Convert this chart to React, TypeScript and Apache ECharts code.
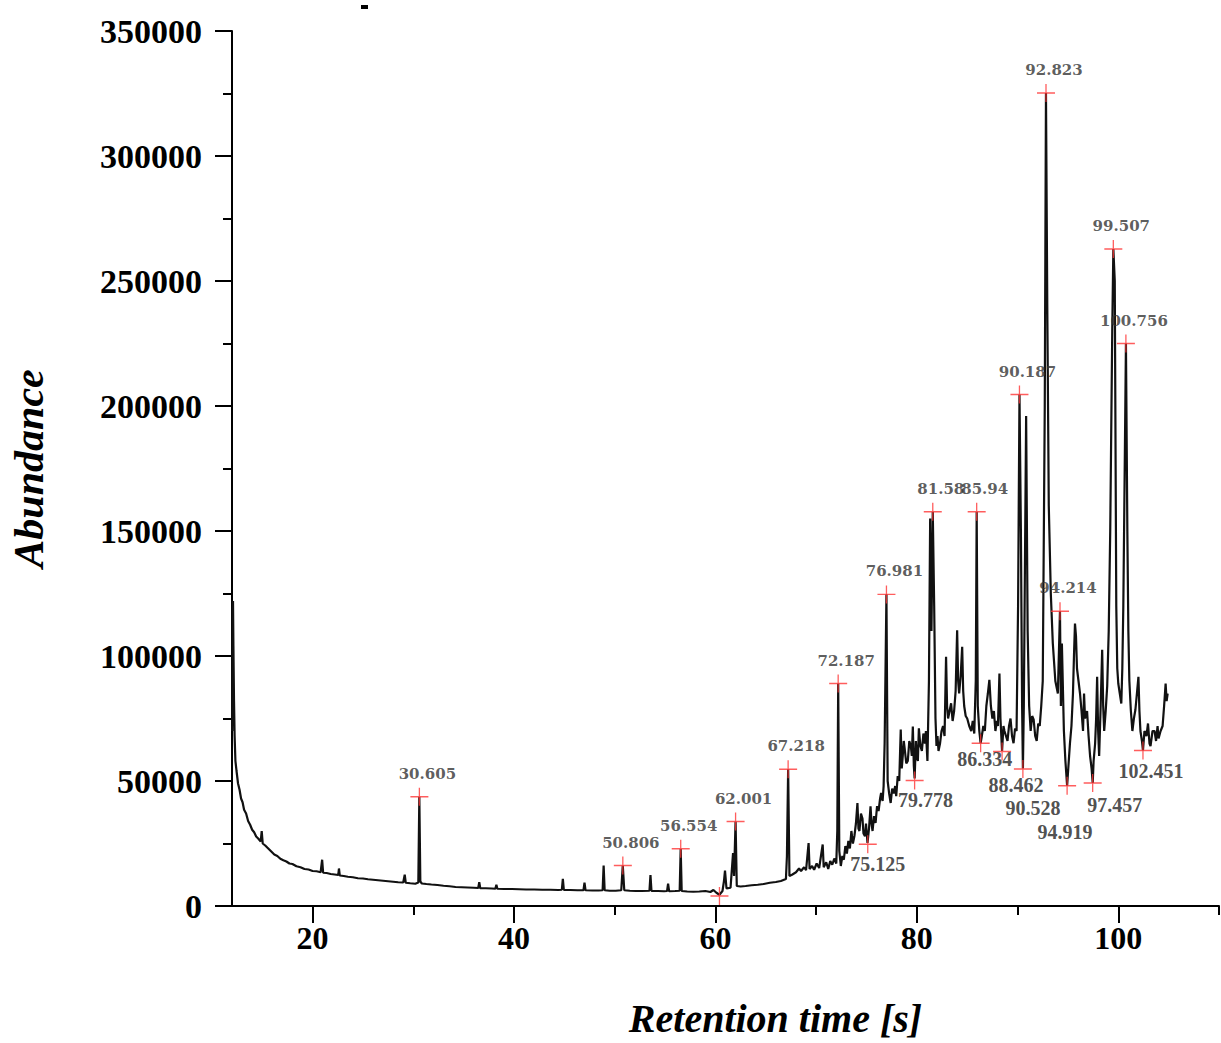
import React, { useEffect, useRef } from 'react';
import * as echarts from 'echarts';

// Chromatogram trace, [retention time (s), abundance]
const traceEarly = [
  [12.02, 70000], [12.06, 118000], [12.1, 122000], [12.14, 104000], [12.2, 82000], [12.26, 68000], [12.34, 58000],
  [12.45, 54000], [12.6, 49000], [12.75, 46500], [12.9, 43000], [13.05, 41500], [13.2, 38500], [13.4, 37000],
  [13.6, 34000], [13.8, 32500], [14.0, 30500], [14.2, 29500], [14.4, 27800], [14.6, 27000], [14.85, 25800],
  [14.95, 30000], [15.05, 25000], [15.3, 24200], [15.6, 23000], [15.9, 21800], [16.2, 20600], [16.5, 20000],
  [16.8, 18900], [17.1, 18300], [17.4, 17800], [17.7, 17000], [18.0, 16800], [18.4, 15900], [18.8, 15500],
  [19.2, 14800], [19.6, 14600], [20.0, 14000], [20.4, 13900], [20.8, 13500], [20.95, 18500], [21.05, 13300],
  [21.4, 13200], [21.8, 12800], [22.2, 12600], [22.55, 12400], [22.62, 15000], [22.7, 12200], [23.1, 12000],
  [23.5, 11700], [24.0, 11500], [24.5, 11100], [25.0, 11000], [25.5, 10700], [26.0, 10500], [26.5, 10300],
  [27.0, 10100], [27.5, 9900], [28.0, 9700], [28.5, 9500], [29.0, 9400], [29.15, 12500], [29.25, 9300],
  [29.7, 9100], [30.2, 8900], [30.5, 9400], [30.6, 43700], [30.7, 9800], [30.85, 9000], [31.3, 8800],
  [31.8, 8600], [32.4, 8400], [33.0, 8100], [33.6, 7900], [34.2, 7600], [34.8, 7500], [35.4, 7400],
  [36.0, 7300], [36.45, 7200], [36.55, 9500], [36.65, 7100], [37.2, 7100], [37.8, 7000], [38.15, 6900],
  [38.25, 8500], [38.35, 6900], [39.0, 6800], [39.8, 6800], [40.5, 6700], [41.2, 6600], [42.0, 6600],
  [42.8, 6500], [43.6, 6500], [44.4, 6400], [44.75, 6500], [44.85, 10900], [44.95, 6400], [45.6, 6400],
  [46.3, 6300], [46.9, 6300], [47.0, 9300], [47.1, 6300], [47.8, 6200], [48.4, 6200], [48.8, 6300],
  [48.9, 16200], [49.0, 6300], [49.5, 6100], [50.1, 6100], [50.65, 6300], [50.8, 16200], [50.95, 6300],
  [51.5, 6100], [52.1, 6000], [52.7, 6000], [53.45, 6100], [53.55, 12400], [53.65, 6000], [54.3, 6000],
  [54.9, 5900], [55.2, 6000], [55.3, 8900], [55.4, 5900], [56.0, 6000], [56.45, 6100], [56.55, 22900],
  [56.65, 6000], [57.2, 5800], [57.8, 5700], [58.4, 5800], [59.0, 6000], [59.5, 5600], [59.8, 6400],
  [60.1, 5300], [60.4, 4500], [60.7, 6000], [60.85, 10000], [60.95, 14200], [61.1, 7000], [61.5, 7300],
  [61.75, 21200], [61.85, 12000], [62.0, 33800], [62.12, 8000], [62.5, 7800], [63.0, 8000], [63.6, 8300],
  [64.2, 8500], [64.8, 8800], [65.4, 9300], [66.0, 9600], [66.5, 10000], [67.0, 10800], [67.1, 20000],
  [67.22, 54700], [67.35, 12000], [67.6, 12500],
];

const traceMid = [
  [68.0, 13500], [68.3, 15000], [68.5, 14000], [68.8, 15500], [69.0, 14300], [69.25, 25200], [69.35, 14800],
  [69.6, 16000], [69.8, 14500], [70.05, 17000], [70.3, 15200], [70.65, 24600], [70.75, 15500], [71.0, 17500],
  [71.2, 14800], [71.4, 18000], [71.6, 16500], [71.8, 19000], [72.0, 17000], [72.1, 30000], [72.19, 89000],
  [72.3, 22000], [72.45, 16000], [72.6, 20000], [72.75, 18500], [72.9, 24000], [73.05, 21000], [73.2, 26000],
  [73.35, 23000], [73.5, 30000], [73.65, 25000], [73.8, 28000], [73.95, 33000], [74.1, 41200], [74.2, 31000],
  [74.3, 30000], [74.45, 37000], [74.6, 35000], [74.7, 29000], [74.85, 27900], [74.95, 33000], [75.1, 25200],
  [75.25, 31000], [75.4, 39900], [75.5, 33000], [75.6, 30000], [75.75, 36000], [75.9, 33200], [76.05, 40000],
  [76.2, 38000], [76.35, 43000], [76.45, 45200], [76.6, 42000], [76.7, 48000], [76.8, 65100], [76.98, 124650],
  [77.1, 50000], [77.25, 45000], [77.4, 41200], [77.55, 47000], [77.7, 45000], [77.85, 48000], [77.95, 43900],
  [78.1, 52000], [78.25, 50000], [78.4, 70600], [78.5, 55000], [78.6, 60000], [78.7, 66000], [78.8, 62600],
  [78.95, 57000], [79.1, 58000], [79.25, 66000], [79.4, 64000], [79.5, 60000], [79.6, 71800], [79.7, 56000],
  [79.78, 51000], [79.9, 66000], [80.0, 60000], [80.1, 58000], [80.2, 71100], [80.35, 64000], [80.5, 62000],
  [80.65, 69000], [80.8, 65000], [80.9, 70000], [81.05, 58000], [81.2, 90000], [81.32, 155000], [81.45, 110000],
  [81.58, 157700], [81.72, 120000], [81.85, 75000], [81.95, 64000], [82.05, 68000], [82.15, 62000], [82.3, 65000],
  [82.45, 70000], [82.6, 72000], [82.75, 68000], [82.9, 99700], [83.0, 80000], [83.1, 75000], [83.25, 78000],
  [83.4, 81100], [83.55, 74000], [83.7, 78000], [83.85, 86000], [84.0, 110300], [84.1, 90000], [84.2, 85000],
  [84.35, 92000], [84.5, 103700], [84.6, 86000], [84.7, 80000], [84.85, 76000], [85.0, 75000], [85.2, 72000],
  [85.4, 70000], [85.55, 74000], [85.7, 69000], [85.85, 90000], [85.94, 157700], [86.05, 80000], [86.2, 70000],
  [86.33, 65100], [86.45, 68000], [86.6, 72000], [86.75, 70000], [86.9, 80000], [87.05, 85000], [87.2, 90500],
  [87.35, 80000], [87.5, 75000], [87.65, 78000], [87.8, 70000], [87.95, 74000], [88.05, 72000], [88.2, 93000],
  [88.3, 75000], [88.46, 62000], [88.6, 72000], [88.7, 70000], [88.85, 68000], [89.0, 66000], [89.15, 72000],
  [89.3, 75000], [89.45, 68000], [89.6, 65100], [89.75, 71000], [89.9, 70000],
];

const traceLate = [
  [90.05, 120000], [90.19, 204600], [90.33, 150000], [90.45, 80000], [90.53, 55000], [90.62, 80000],
  [90.7, 120000], [90.85, 196000], [91.0, 110000], [91.15, 80000], [91.3, 70000], [91.45, 76000], [91.6, 74500],
  [91.75, 68000], [91.9, 66000], [92.05, 73000], [92.2, 72000], [92.35, 80000], [92.5, 90000], [92.7, 200000],
  [92.82, 325200], [92.95, 240000], [93.1, 160000], [93.3, 125000], [93.5, 105000], [93.75, 90000], [94.0, 85000],
  [94.21, 117900], [94.3, 80000], [94.4, 105000], [94.6, 70000], [94.75, 58000], [94.92, 48100], [95.05, 56000],
  [95.2, 65000], [95.35, 72000], [95.5, 85000], [95.6, 100000], [95.7, 113000], [95.8, 108000], [95.9, 95000],
  [96.05, 90000], [96.2, 85000], [96.35, 78000], [96.5, 70000], [96.6, 85000], [96.7, 75000], [96.9, 78000],
  [97.05, 68000], [97.2, 60000], [97.35, 55000], [97.46, 49200], [97.55, 58000], [97.7, 65000], [97.8, 75000],
  [97.9, 91700], [98.0, 70000], [98.1, 60000], [98.25, 80000], [98.4, 102500], [98.5, 80000], [98.6, 70000],
  [98.75, 78000], [98.9, 88000], [99.05, 110000], [99.2, 150000], [99.4, 230000], [99.51, 262800], [99.65, 250000],
  [99.8, 120000], [99.9, 95000], [100.0, 89000], [100.15, 85000], [100.3, 81000], [100.4, 95000], [100.5, 120000],
  [100.65, 180000], [100.76, 225000], [100.9, 150000], [101.0, 110000], [101.1, 90000], [101.25, 78000],
  [101.4, 70000], [101.55, 75000], [101.7, 78500], [101.85, 85000], [102.0, 91700], [102.1, 78000], [102.2, 70000],
  [102.35, 66000], [102.45, 62200], [102.6, 70000], [102.8, 68000], [102.95, 73000], [103.1, 65000], [103.2, 64000],
  [103.4, 70000], [103.6, 70000], [103.75, 66000], [103.9, 72000], [104.0, 67000], [104.2, 70000], [104.4, 72000],
  [104.55, 80000], [104.7, 89000], [104.8, 82000], [104.9, 85000],
];

const peakTimes = [30.605, 50.806, 56.554, 62.001, 67.218, 72.187, 76.981, 81.58, 85.94, 90.187, 92.823, 94.214, 99.507, 100.756];
const peakHeights = [43700, 16200, 22900, 33800, 54700, 89000, 124650, 157700, 157700, 204600, 325200, 117900, 262800, 225000];
const peakLabels = ['30.605', '50.806', '56.554', '62.001', '67.218', '72.187', '76.981', '81.58', '85.94', '90.187', '92.823', '94.214', '99.507', '100.756'];

const valleyTimes = [60.4, 75.125, 79.778, 86.334, 88.462, 90.528, 94.919, 97.457, 102.451];
const valleyHeights = [4000, 24700, 50200, 65100, 61800, 54800, 48100, 49200, 62200];
const valleyLabels = ['', '75.125', '79.778', '86.334', '88.462', '90.528', '94.919', '97.457', '102.451'];
const valleyLabelOffsets = [[0, 0], [10, 20], [11, 19], [4, 16], [14, 33], [10, 39], [-2, 46], [22, 22], [8, 20]];

const xMajorTicks = [20, 40, 60, 80, 100];
const xMinorTicks = [30, 50, 70, 90, 110];

const serif = 'Liberation Serif';
const plusSymbol = 'path://M0,9L18,9M9,0L9,18';

export default function App() {
  const ref = useRef<HTMLDivElement>(null);
  useEffect(() => {
    const chart = echarts.init(ref.current!, null, { renderer: 'svg' });
    const trace = [...traceEarly, ...traceMid, ...traceLate];
    const peaks = peakTimes.map((t, i) => [t, peakHeights[i], peakLabels[i]]);
    const valleys = valleyTimes.map((t, i) => ({
      value: [t, valleyHeights[i], valleyLabels[i]],
      label: { offset: valleyLabelOffsets[i] },
    }));
    const baseX = {
      type: 'value',
      min: 12,
      max: 110,
      splitLine: { show: false },
    };
    chart.setOption({
      animation: false,
      backgroundColor: '#ffffff',
      grid: { left: 230, right: 2, top: 31, bottom: 133, containLabel: false },
      xAxis: [
        {
          ...baseX,
          position: 'bottom',
          name: 'Retention time [s]',
          nameLocation: 'middle',
          nameGap: 92,
          nameTextStyle: {
            fontFamily: serif, fontStyle: 'italic', fontWeight: 'bold', fontSize: 40, color: '#000',
            padding: [0, 0, 0, 100],
          },
          axisLine: { show: true, lineStyle: { color: '#000', width: 2 } },
          axisTick: { show: true, inside: false, length: 17, lineStyle: { color: '#000', width: 2 }, customValues: xMajorTicks },
          axisLabel: {
            show: true, margin: 16, customValues: xMajorTicks,
            fontFamily: serif, fontWeight: 'bold', fontSize: 32, color: '#000',
          },
        },
        {
          ...baseX,
          position: 'bottom',
          axisLine: { show: false },
          axisTick: { show: true, inside: false, length: 9, lineStyle: { color: '#000', width: 2 }, customValues: xMinorTicks },
          axisLabel: { show: false },
        },
      ],
      yAxis: {
        type: 'value',
        min: 0,
        max: 350000,
        interval: 50000,
        name: 'Abundance',
        nameLocation: 'middle',
        nameGap: 182,
        nameRotate: 90,
        nameTextStyle: { fontFamily: serif, fontStyle: 'italic', fontWeight: 'bold', fontSize: 42, color: '#000' },
        splitLine: { show: false },
        axisLine: { show: true, lineStyle: { color: '#000', width: 2 } },
        axisTick: { show: true, inside: false, length: 17, lineStyle: { color: '#000', width: 2 } },
        minorTick: { show: true, splitNumber: 2, length: 9, lineStyle: { color: '#000', width: 2 } },
        axisLabel: {
          margin: 30, fontFamily: serif, fontWeight: 'bold', fontSize: 34, color: '#000',
          formatter: (v: number) => String(v),
        },
      },
      series: [
        {
          type: 'line',
          data: trace,
          showSymbol: false,
          symbol: 'none',
          lineStyle: { color: '#111', width: 2.2 },
          z: 2,
        },
        {
          type: 'scatter',
          data: peaks,
          symbol: plusSymbol,
          symbolSize: 18,
          itemStyle: { color: 'rgba(0,0,0,0)', borderColor: '#ff3535', borderWidth: 1.3 },
          label: {
            show: true, position: 'inside', offset: [8, -23],
            formatter: (p: any) => p.data[2],
            fontFamily: 'DejaVu Serif', fontWeight: 'bold', fontSize: 15, color: '#333',
          },
          z: 3,
        },
        {
          type: 'scatter',
          data: valleys,
          symbol: plusSymbol,
          symbolSize: 18,
          itemStyle: { color: 'rgba(0,0,0,0)', borderColor: '#ff3535', borderWidth: 1.3 },
          label: {
            show: true, position: 'inside',
            formatter: (p: any) => p.value[2],
            fontFamily: serif, fontWeight: 'bold', fontSize: 20, color: '#222',
          },
          z: 3,
        },
      ],
      graphic: [
        { type: 'rect', shape: { x: 361, y: 5, width: 7, height: 4 }, style: { fill: '#000' } },
      ],
    });
    return () => chart.dispose();
  }, []);
  return <div ref={ref} style={{ position: 'fixed', left: 0, top: 0, width: 1221, height: 1043 }} />;
}
